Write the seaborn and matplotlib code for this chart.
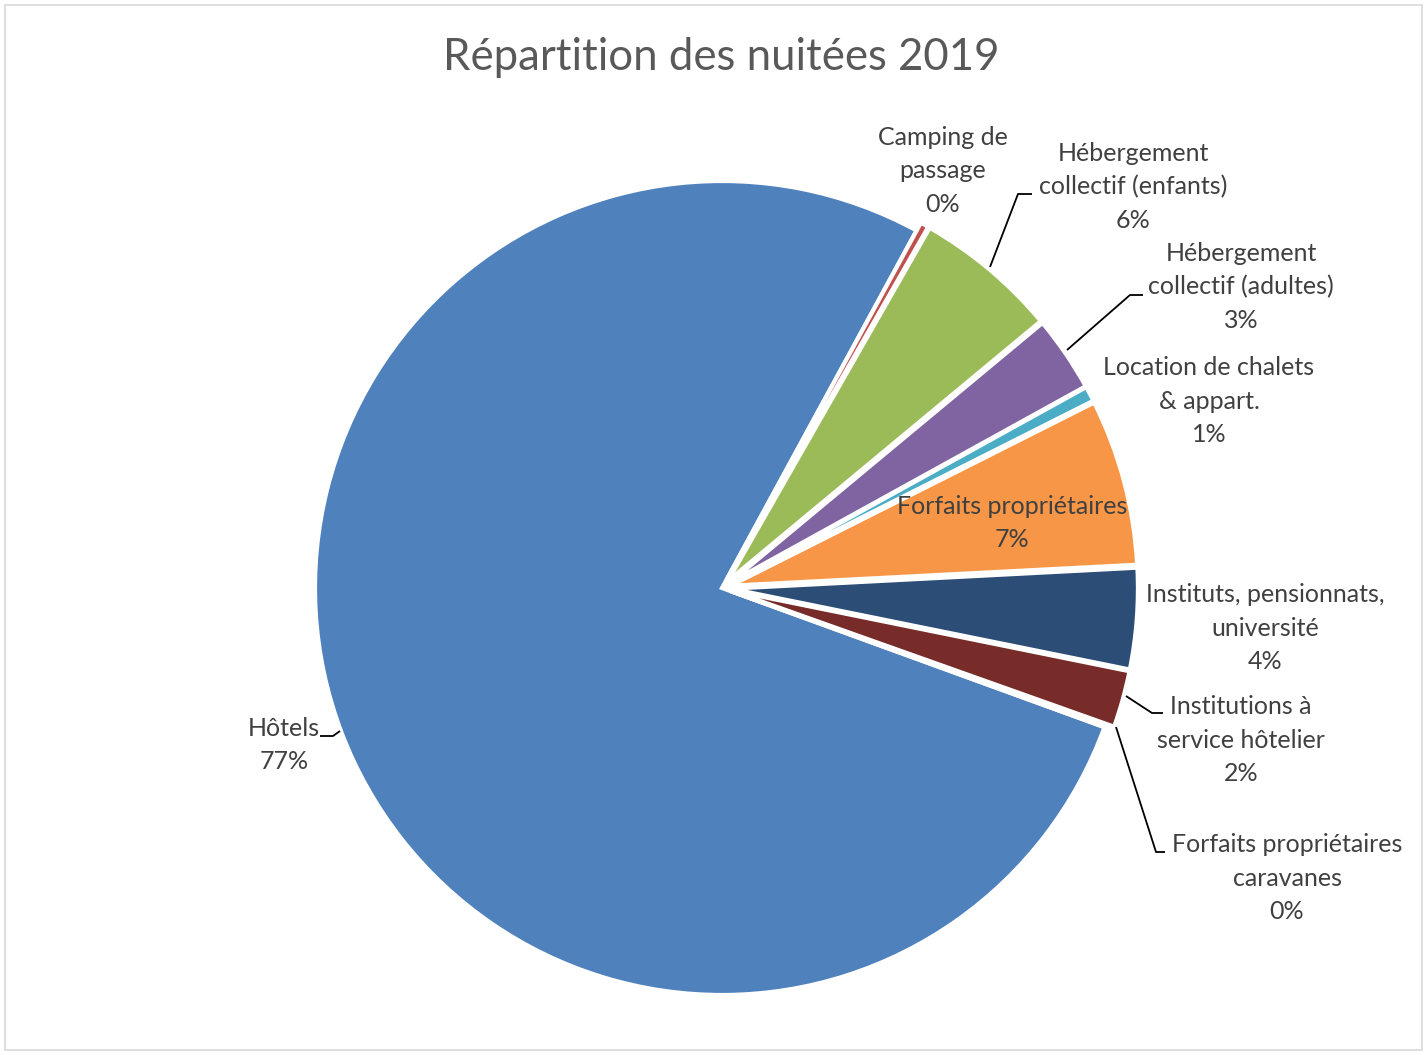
import matplotlib
matplotlib.use("Agg")
import matplotlib.pyplot as plt
import seaborn as sns
from matplotlib.patches import Rectangle

# ---- data ----
categories = ["Hôtels", "Camping de\npassage", "Hébergement\ncollectif (enfants)",
              "Hébergement\ncollectif (adultes)", "Location de chalets\n& appart.",
              "Forfaits propriétaires", "Instituts, pensionnats,\nuniversité",
              "Institutions à\nservice hôtelier", "Forfaits propriétaires\ncaravanes"]
shares = [77.3, 0.33, 5.7, 3.0, 0.6, 6.6, 4.0, 2.25, 0.12]
colors = ["#4F81BD", "#C0504D", "#9BBB59", "#8064A2", "#4BACC6",
          "#F79646", "#2C4D75", "#772C2A", "#5F7530"]
title = "Répartition des nuitées 2019"

sns.set_theme(style="white")
plt.rcParams["font.family"] = ["Lato", "DejaVu Sans"]

W, H = 1427, 1055
fig = plt.figure(figsize=(W / 100, H / 100), dpi=100)
ax = fig.add_axes([0, 0, 1, 1])
CX, CY, R = 722, 588, 407

def px(x, y):
    return ((x - CX) / R, (CY - y) / R)

explode = [0.0] + [0.022] * (len(shares) - 1)
ax.pie(shares, colors=sns.color_palette(colors), startangle=-20, counterclock=False,
       radius=1.0, explode=explode, center=(0, 0),
       wedgeprops=dict(edgecolor="white", linewidth=3))
ax.set_xlim(-CX / R, (W - CX) / R)
ax.set_ylim(-(H - CY) / R, CY / R)
ax.set_aspect("equal")
ax.axis("off")

total = sum(shares)
label_pos = [(284, 745), (943, 171), (1133, 187), (1241, 287), (1209, 401),
             (1012, 523), (1265, 628), (1241, 740), (1287, 878)]
for cat, v, (lx, ly) in zip(categories, shares, label_pos):
    txt = f"{cat}\n{round(v / total * 100):.0f}%"
    x, y = px(lx, ly)
    ax.text(x, y, txt, ha="center", va="center", fontsize=18, color="#404040",
            linespacing=1.55)

leaders = [
    [(320, 736), (333, 736), (340, 731)],
    [(990, 267), (1018, 194), (1032, 194)],
    [(1067, 350), (1130, 295), (1143, 295)],
    [(1126, 696), (1152, 713), (1163, 713)],
    [(1116, 727), (1156, 852), (1165, 852)],
]
for pts in leaders:
    xs, ys = zip(*[px(a, b) for a, b in pts])
    ax.plot(xs, ys, color="black", linewidth=1.3, solid_capstyle="butt")

fig.text(721 / W, 1 - 57 / H, title, ha="center", va="center", fontsize=31.5,
         color="#595959")
fig.patches.append(Rectangle((5 / W, 5 / H), (W - 10) / W, (H - 10) / H,
                             transform=fig.transFigure, fill=False,
                             edgecolor="#D9D9D9", linewidth=1.2))
fig.savefig("out.png", dpi=100)
